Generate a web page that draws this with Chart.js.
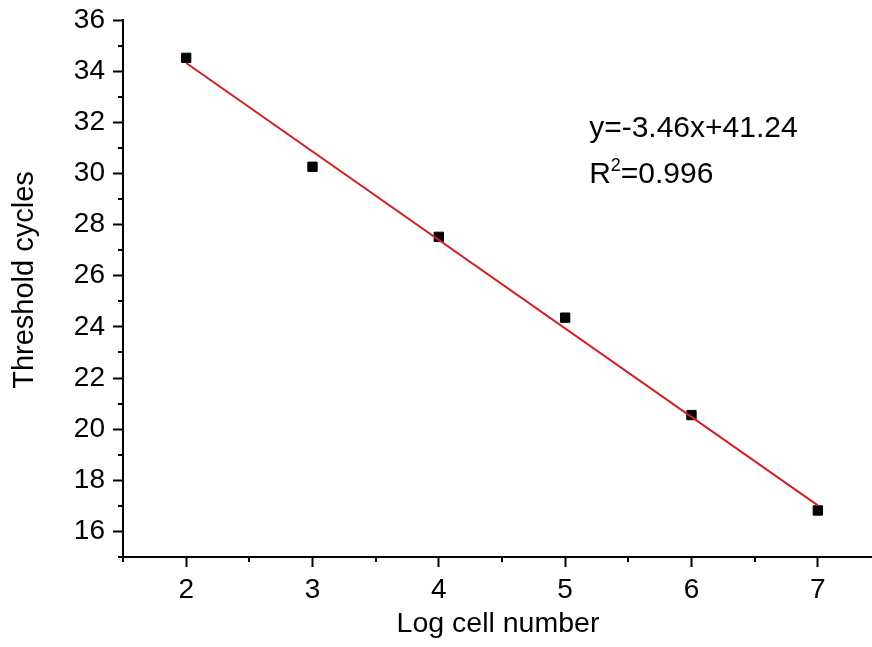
<!DOCTYPE html>
<html>
<head>
<meta charset="utf-8">
<script src="https://cdn.jsdelivr.net/npm/chart.js@4.4.1/dist/chart.umd.min.js"></script>
<style>
html,body{margin:0;padding:0;background:#fff;overflow:hidden;}
#wrap{width:872px;height:647px;overflow:hidden;}
</style>
</head>
<body>
<div id="wrap"><canvas id="c" width="881" height="647"></canvas></div>
<script>
// Data
const logCellNumber = [2, 3, 4, 5, 6, 7];
const thresholdCycles = [34.52, 30.26, 27.52, 24.36, 20.55, 16.82];
const fitX = [2, 7];
const fitY = [34.32, 17.02];
const xTickValues = [2, 3, 4, 5, 6, 7];
const xMinorTicks = [1.5, 2.5, 3.5, 4.5, 5.5, 6.5];
const yTickValues = [16, 18, 20, 22, 24, 26, 28, 30, 32, 34, 36];
const yMinorTicks = [15, 17, 19, 21, 23, 25, 27, 29, 31, 33, 35];
const xTitle = 'Log cell number';
const yTitle = 'Threshold cycles';
const equationText = 'y=-3.46x+41.24';
const r2Value = '=0.996';

const FONT = '"Liberation Sans", Arial, sans-serif';

const extrasPlugin = {
  id: 'extras',
  afterDraw(chart) {
    const ctx = chart.ctx;
    const xs = chart.scales.x, ys = chart.scales.y;
    const area = chart.chartArea;
    ctx.save();
    ctx.strokeStyle = '#000';
    ctx.lineWidth = 2;
    ctx.beginPath();
    xMinorTicks.forEach(v => {
      const px = Math.round(xs.getPixelForValue(v));
      ctx.moveTo(px, area.bottom);
      ctx.lineTo(px, area.bottom + 5);
    });
    yMinorTicks.forEach(v => {
      const py = Math.round(ys.getPixelForValue(v));
      ctx.moveTo(area.left, py);
      ctx.lineTo(area.left - 5, py);
    });
    ctx.stroke();

    ctx.fillStyle = '#000';
    // axis titles
    ctx.textAlign = 'center';
    ctx.textBaseline = 'alphabetic';
    ctx.font = '28.5px ' + FONT;
    ctx.fillText(xTitle, 498, 632);
    ctx.save();
    ctx.translate(33, 280);
    ctx.rotate(-Math.PI / 2);
    ctx.font = '29px ' + FONT;
    ctx.fillText(yTitle, 0, 0);
    ctx.restore();

    // equation annotation
    ctx.textAlign = 'left';
    ctx.font = '30px ' + FONT;
    const ex = xs.getPixelForValue(5.19);
    ctx.fillText(equationText, ex, ys.getPixelForValue(31.43));
    const ry = ys.getPixelForValue(29.63);
    ctx.fillText('R', ex, ry);
    const rw = ctx.measureText('R').width;
    ctx.font = '18px ' + FONT;
    ctx.fillText('2', ex + rw, ry - 12);
    const sw = ctx.measureText('2').width;
    ctx.font = '30px ' + FONT;
    ctx.fillText(r2Value, ex + rw + sw, ry);
    ctx.restore();
  }
};

new Chart(document.getElementById('c'), {
  type: 'scatter',
  data: {
    datasets: [
      {
        label: 'Threshold cycles',
        data: logCellNumber.map((x, i) => ({x: x, y: thresholdCycles[i]})),
        pointStyle: 'rect',
        pointRadius: 6.6,
        pointBackgroundColor: '#000',
        pointBorderColor: '#000',
        pointBorderWidth: 1,
        showLine: false,
        order: 2
      },
      {
        label: 'Linear fit',
        data: fitX.map((x, i) => ({x: x, y: fitY[i]})),
        showLine: true,
        borderColor: '#d21f1f',
        borderWidth: 2,
        pointRadius: 0,
        order: 1
      }
    ]
  },
  options: {
    responsive: false,
    animation: false,
    devicePixelRatio: 1,
    layout: {padding: {top: 20, right: 0, left: 0, bottom: 0}},
    plugins: {legend: {display: false}, tooltip: {enabled: false}},
    scales: {
      x: {
        type: 'linear',
        min: 1.5,
        max: 7.44,
        afterBuildTicks: s => { s.ticks = xTickValues.map(v => ({value: v})); },
        afterFit: s => { s.height = 90; s.paddingLeft = 0; s.paddingRight = 0; },
        grid: {display: true, drawOnChartArea: false, drawTicks: true, tickLength: 10, tickColor: '#000', tickWidth: 2},
        border: {display: true, color: '#000', width: 2},
        ticks: {color: '#000', font: {family: FONT, size: 28}, padding: 6, maxRotation: 0, autoSkip: false},
        title: {display: false}
      },
      y: {
        type: 'linear',
        min: 15,
        max: 36,
        afterBuildTicks: s => { s.ticks = yTickValues.map(v => ({value: v})); },
        afterFit: s => { s.width = 123; s.paddingTop = 0; s.paddingBottom = 0; },
        grid: {display: true, drawOnChartArea: false, drawTicks: true, tickLength: 10, tickColor: '#000', tickWidth: 2},
        border: {display: true, color: '#000', width: 2},
        ticks: {color: '#000', font: {family: FONT, size: 28}, padding: 8, autoSkip: false},
        title: {display: false}
      }
    }
  },
  plugins: [extrasPlugin]
});
</script>
</body>
</html>
